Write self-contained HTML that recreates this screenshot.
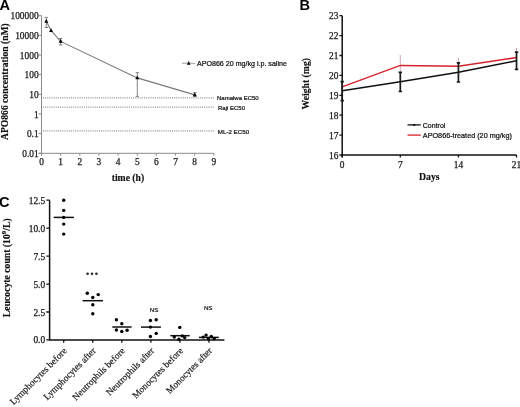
<!DOCTYPE html>
<html><head><meta charset="utf-8"><style>
html,body{margin:0;padding:0;background:#fff;}
body{width:520px;height:407px;overflow:hidden;}
svg{display:block;will-change:transform;}
</style></head><body>
<svg width="520" height="407" viewBox="0 0 520 407">
<rect width="520" height="407" fill="#fff"/>
<text x="-0.6" y="9.9" font-family='"Liberation Sans", sans-serif' font-weight="bold" font-size="14.6" fill="#000">A</text>
<path d="M41.5 15.680000000000007 V155.70000000000002 M38.5 153.3 H213.85" stroke="#8a8a8a" stroke-width="1" fill="none"/>
<path d="M38.5 153.30 H41.5 M38.5 133.64 H41.5 M38.5 113.98 H41.5 M38.5 94.32 H41.5 M38.5 74.66 H41.5 M38.5 55.00 H41.5 M38.5 35.34 H41.5 M38.5 15.68 H41.5 M41.50 153.3 V155.70000000000002 M60.65 153.3 V155.70000000000002 M79.80 153.3 V155.70000000000002 M98.95 153.3 V155.70000000000002 M118.10 153.3 V155.70000000000002 M137.25 153.3 V155.70000000000002 M156.40 153.3 V155.70000000000002 M175.55 153.3 V155.70000000000002 M194.70 153.3 V155.70000000000002 M213.85 153.3 V155.70000000000002 " stroke="#8a8a8a" stroke-width="1" fill="none"/>
<text x="38.6" y="19.28" text-anchor="end" font-family='"Liberation Serif", serif' font-size="9.4" fill="#1a1a1a" stroke="#1a1a1a" stroke-width="0.25">100000</text>
<text x="38.6" y="38.94" text-anchor="end" font-family='"Liberation Serif", serif' font-size="9.4" fill="#1a1a1a" stroke="#1a1a1a" stroke-width="0.25">10000</text>
<text x="38.6" y="58.60" text-anchor="end" font-family='"Liberation Serif", serif' font-size="9.4" fill="#1a1a1a" stroke="#1a1a1a" stroke-width="0.25">1000</text>
<text x="38.6" y="78.26" text-anchor="end" font-family='"Liberation Serif", serif' font-size="9.4" fill="#1a1a1a" stroke="#1a1a1a" stroke-width="0.25">100</text>
<text x="38.6" y="97.92" text-anchor="end" font-family='"Liberation Serif", serif' font-size="9.4" fill="#1a1a1a" stroke="#1a1a1a" stroke-width="0.25">10</text>
<text x="38.6" y="117.58" text-anchor="end" font-family='"Liberation Serif", serif' font-size="9.4" fill="#1a1a1a" stroke="#1a1a1a" stroke-width="0.25">1</text>
<text x="38.6" y="137.24" text-anchor="end" font-family='"Liberation Serif", serif' font-size="9.4" fill="#1a1a1a" stroke="#1a1a1a" stroke-width="0.25">0.1</text>
<text x="38.6" y="156.90" text-anchor="end" font-family='"Liberation Serif", serif' font-size="9.4" fill="#1a1a1a" stroke="#1a1a1a" stroke-width="0.25">0.01</text>
<text x="41.50" y="164.9" text-anchor="middle" font-family='"Liberation Serif", serif' font-size="9.4" fill="#1a1a1a" stroke="#1a1a1a" stroke-width="0.25">0</text>
<text x="60.65" y="164.9" text-anchor="middle" font-family='"Liberation Serif", serif' font-size="9.4" fill="#1a1a1a" stroke="#1a1a1a" stroke-width="0.25">1</text>
<text x="79.80" y="164.9" text-anchor="middle" font-family='"Liberation Serif", serif' font-size="9.4" fill="#1a1a1a" stroke="#1a1a1a" stroke-width="0.25">2</text>
<text x="98.95" y="164.9" text-anchor="middle" font-family='"Liberation Serif", serif' font-size="9.4" fill="#1a1a1a" stroke="#1a1a1a" stroke-width="0.25">3</text>
<text x="118.10" y="164.9" text-anchor="middle" font-family='"Liberation Serif", serif' font-size="9.4" fill="#1a1a1a" stroke="#1a1a1a" stroke-width="0.25">4</text>
<text x="137.25" y="164.9" text-anchor="middle" font-family='"Liberation Serif", serif' font-size="9.4" fill="#1a1a1a" stroke="#1a1a1a" stroke-width="0.25">5</text>
<text x="156.40" y="164.9" text-anchor="middle" font-family='"Liberation Serif", serif' font-size="9.4" fill="#1a1a1a" stroke="#1a1a1a" stroke-width="0.25">6</text>
<text x="175.55" y="164.9" text-anchor="middle" font-family='"Liberation Serif", serif' font-size="9.4" fill="#1a1a1a" stroke="#1a1a1a" stroke-width="0.25">7</text>
<text x="194.70" y="164.9" text-anchor="middle" font-family='"Liberation Serif", serif' font-size="9.4" fill="#1a1a1a" stroke="#1a1a1a" stroke-width="0.25">8</text>
<text x="213.85" y="164.9" text-anchor="middle" font-family='"Liberation Serif", serif' font-size="9.4" fill="#1a1a1a" stroke="#1a1a1a" stroke-width="0.25">9</text>
<path d="M43.0 97.9 H213.85" stroke="#8c8c8c" stroke-width="1.3" stroke-dasharray="1 1.15" fill="none"/>
<path d="M43.0 107.2 H213.85" stroke="#8c8c8c" stroke-width="1.3" stroke-dasharray="1 1.15" fill="none"/>
<path d="M43.0 130.9 H213.85" stroke="#8c8c8c" stroke-width="1.3" stroke-dasharray="1 1.15" fill="none"/>
<text x="217" y="99.6" font-family='"Liberation Sans", sans-serif' font-size="6" fill="#111" stroke="#111" stroke-width="0.22">Namalwa EC50</text>
<text x="218" y="110.2" font-family='"Liberation Sans", sans-serif' font-size="6" fill="#111" stroke="#111" stroke-width="0.22">Raji EC50</text>
<text x="217.8" y="133.6" font-family='"Liberation Sans", sans-serif' font-size="6.2" fill="#111" stroke="#111" stroke-width="0.22">ML-2 EC50</text>
<path d="M46.3 21.3 L51.1 30.6 L60.65 41.4 L137.3 77.9 L194.8 94.9" stroke="#7a7a7a" stroke-width="1.15" fill="none"/>
<path d="M46.3 17.4 V27.5 M44.599999999999994 17.4 H48.0 M44.599999999999994 27.5 H48.0 M60.65 38.5 V44.9 M58.949999999999996 38.5 H62.35 M58.949999999999996 44.9 H62.35 M137.3 72.6 V96.4 M135.60000000000002 72.6 H139.0 M135.60000000000002 96.4 H139.0 M194.8 92.6 V96.5 M193.10000000000002 92.6 H196.5 M193.10000000000002 96.5 H196.5 " stroke="#777" stroke-width="0.9" fill="none"/>
<path d="M46.3 18.94 L48.30 22.74 L44.30 22.74Z" fill="#000"/>
<path d="M51.1 28.24 L53.10 32.04 L49.10 32.04Z" fill="#000"/>
<path d="M60.65 39.04 L62.65 42.84 L58.65 42.84Z" fill="#000"/>
<path d="M137.3 75.54 L139.30 79.34 L135.30 79.34Z" fill="#000"/>
<path d="M194.8 92.54 L196.80 96.34 L192.80 96.34Z" fill="#000"/>
<path d="M182 63.3 H195.4" stroke="#a5a5a5" stroke-width="1"/>
<path d="M188.7 61.06 L190.60 64.67 L186.80 64.67Z" fill="#000"/>
<text x="197" y="65.6" font-family='"Liberation Sans", sans-serif' font-size="7.1" fill="#111" stroke="#111" stroke-width="0.22">APO866 20 mg/kg i.p. saline</text>
<text transform="translate(7.8 81.6) rotate(-90)" text-anchor="middle" font-family='"Liberation Serif", serif' font-weight="bold" font-size="9.6" fill="#111" stroke="#111" stroke-width="0.15">APO866 concentration (nM)</text>
<text x="127.95" y="180.6" text-anchor="middle" font-family='"Liberation Serif", serif' font-weight="bold" font-size="9.7" fill="#111" stroke="#111" stroke-width="0.15">time (h)</text>
<text x="299.4" y="10.2" font-family='"Liberation Sans", sans-serif' font-weight="bold" font-size="14.6" fill="#000">B</text>
<path d="M342.2 15.700000000000017 V157.6 M342.2 155.0 H516.5419999999999" stroke="#111" stroke-width="1.5" fill="none"/>
<path d="M339.4 155.00 H342.2 M339.4 135.10 H342.2 M339.4 115.20 H342.2 M339.4 95.30 H342.2 M339.4 75.40 H342.2 M339.4 55.50 H342.2 M339.4 35.60 H342.2 M339.4 15.70 H342.2 M342.20 155.0 V157.6 M400.31 155.0 V157.6 M458.43 155.0 V157.6 M516.54 155.0 V157.6 " stroke="#111" stroke-width="1.3" fill="none"/>
<text x="338.4" y="158.50" text-anchor="end" font-family='"Liberation Serif", serif' font-size="9.4" fill="#1a1a1a" stroke="#1a1a1a" stroke-width="0.25">16</text>
<text x="338.4" y="138.60" text-anchor="end" font-family='"Liberation Serif", serif' font-size="9.4" fill="#1a1a1a" stroke="#1a1a1a" stroke-width="0.25">17</text>
<text x="338.4" y="118.70" text-anchor="end" font-family='"Liberation Serif", serif' font-size="9.4" fill="#1a1a1a" stroke="#1a1a1a" stroke-width="0.25">18</text>
<text x="338.4" y="98.80" text-anchor="end" font-family='"Liberation Serif", serif' font-size="9.4" fill="#1a1a1a" stroke="#1a1a1a" stroke-width="0.25">19</text>
<text x="338.4" y="78.90" text-anchor="end" font-family='"Liberation Serif", serif' font-size="9.4" fill="#1a1a1a" stroke="#1a1a1a" stroke-width="0.25">20</text>
<text x="338.4" y="59.00" text-anchor="end" font-family='"Liberation Serif", serif' font-size="9.4" fill="#1a1a1a" stroke="#1a1a1a" stroke-width="0.25">21</text>
<text x="338.4" y="39.10" text-anchor="end" font-family='"Liberation Serif", serif' font-size="9.4" fill="#1a1a1a" stroke="#1a1a1a" stroke-width="0.25">22</text>
<text x="338.4" y="19.20" text-anchor="end" font-family='"Liberation Serif", serif' font-size="9.4" fill="#1a1a1a" stroke="#1a1a1a" stroke-width="0.25">23</text>
<text x="342.20" y="167.7" text-anchor="middle" font-family='"Liberation Serif", serif' font-size="9.4" fill="#1a1a1a" stroke="#1a1a1a" stroke-width="0.25">0</text>
<text x="400.31" y="167.7" text-anchor="middle" font-family='"Liberation Serif", serif' font-size="9.4" fill="#1a1a1a" stroke="#1a1a1a" stroke-width="0.25">7</text>
<text x="458.43" y="167.7" text-anchor="middle" font-family='"Liberation Serif", serif' font-size="9.4" fill="#1a1a1a" stroke="#1a1a1a" stroke-width="0.25">14</text>
<text x="516.54" y="167.7" text-anchor="middle" font-family='"Liberation Serif", serif' font-size="9.4" fill="#1a1a1a" stroke="#1a1a1a" stroke-width="0.25">21</text>
<path d="M400.31 55.8 V75.00000000000001 M399.51 55.8 H401.11 M458.43 58.4 V74.19999999999999 M457.63 58.4 H459.23 M516.54 48.4 V66.80000000000001 M515.74 48.4 H517.34 " stroke="#c9a2aa" stroke-width="0.9" fill="none"/>
<path d="M342.20 86.9 L400.31 65.4 L458.43 66.3 L516.54 57.6" stroke="#d6222c" stroke-width="1.5" fill="none"/>
<path d="M342.20 90.8 L400.31 81.8 L458.43 72.2 L516.54 60.7" stroke="#111" stroke-width="1.5" fill="none"/>
<path d="M342.20 81.6 V100.7 M340.50 81.6 H343.90 M340.50 100.7 H343.90 M400.31 72.3 V91.5 M398.61 72.3 H402.01 M398.61 91.5 H402.01 M458.43 62.9 V82 M456.73 62.9 H460.13 M456.73 82 H460.13 M516.54 52.1 V69.3 M514.84 52.1 H518.24 M514.84 69.3 H518.24 " stroke="#1a1a1a" stroke-width="1.7" fill="none"/>
<path d="M407.5 124.9 H420.8" stroke="#111" stroke-width="1.3"/>
<circle cx="414.2" cy="124.9" r="1" fill="#000"/>
<path d="M407.5 135.1 H420.8" stroke="#d6222c" stroke-width="1.3"/>
<text x="422.8" y="127.6" font-family='"Liberation Sans", sans-serif' font-size="7" fill="#111" stroke="#111" stroke-width="0.22">Control</text>
<text x="422.8" y="137.8" font-family='"Liberation Sans", sans-serif' font-size="7.25" fill="#111" stroke="#111" stroke-width="0.22">APO866-treated (20 mg/kg)</text>
<text transform="translate(309.3 83.75) rotate(-90)" text-anchor="middle" font-family='"Liberation Serif", serif' font-weight="bold" font-size="9.7" fill="#111" stroke="#111" stroke-width="0.15">Weight (mg)</text>
<text x="429.3" y="179.8" text-anchor="middle" font-family='"Liberation Serif", serif' font-weight="bold" font-size="9.7" fill="#111" stroke="#111" stroke-width="0.15">Days</text>
<text x="-0.9" y="207.4" font-family='"Liberation Sans", sans-serif' font-weight="bold" font-size="14.6" fill="#000">C</text>
<path d="M49.6 200.2 V339.95 M48.9 339.95 H224.4" stroke="#111" stroke-width="1.5" fill="none"/>
<path d="M46.300000000000004 339.95 H49.6 M46.300000000000004 312.00 H49.6 M46.300000000000004 284.05 H49.6 M46.300000000000004 256.10 H49.6 M46.300000000000004 228.15 H49.6 M46.300000000000004 200.20 H49.6 M63.70 339.95 V342.75 M92.76 339.95 V342.75 M121.82 339.95 V342.75 M150.88 339.95 V342.75 M179.94 339.95 V342.75 M209.00 339.95 V342.75 " stroke="#111" stroke-width="1.3" fill="none"/>
<text x="45.1" y="343.45" text-anchor="end" font-family='"Liberation Serif", serif' font-size="9.4" fill="#1a1a1a" stroke="#1a1a1a" stroke-width="0.25">0.0</text>
<text x="45.1" y="315.50" text-anchor="end" font-family='"Liberation Serif", serif' font-size="9.4" fill="#1a1a1a" stroke="#1a1a1a" stroke-width="0.25">2.5</text>
<text x="45.1" y="287.55" text-anchor="end" font-family='"Liberation Serif", serif' font-size="9.4" fill="#1a1a1a" stroke="#1a1a1a" stroke-width="0.25">5.0</text>
<text x="45.1" y="259.60" text-anchor="end" font-family='"Liberation Serif", serif' font-size="9.4" fill="#1a1a1a" stroke="#1a1a1a" stroke-width="0.25">7.5</text>
<text x="45.1" y="231.65" text-anchor="end" font-family='"Liberation Serif", serif' font-size="9.4" fill="#1a1a1a" stroke="#1a1a1a" stroke-width="0.25">10.0</text>
<text x="45.1" y="203.70" text-anchor="end" font-family='"Liberation Serif", serif' font-size="9.4" fill="#1a1a1a" stroke="#1a1a1a" stroke-width="0.25">12.5</text>
<text transform="translate(67.40 351.4) rotate(-45)" text-anchor="end" font-family='"Liberation Serif", serif' font-size="9.3" fill="#1a1a1a" stroke="#1a1a1a" stroke-width="0.2">Lymphocytes before</text>
<text transform="translate(96.46 351.4) rotate(-45)" text-anchor="end" font-family='"Liberation Serif", serif' font-size="9.3" fill="#1a1a1a" stroke="#1a1a1a" stroke-width="0.2">Lymphocytes after</text>
<text transform="translate(125.52 351.4) rotate(-45)" text-anchor="end" font-family='"Liberation Serif", serif' font-size="9.3" fill="#1a1a1a" stroke="#1a1a1a" stroke-width="0.2">Neutrophils before</text>
<text transform="translate(154.58 351.4) rotate(-45)" text-anchor="end" font-family='"Liberation Serif", serif' font-size="9.3" fill="#1a1a1a" stroke="#1a1a1a" stroke-width="0.2">Neutrophils after</text>
<text transform="translate(183.64 351.4) rotate(-45)" text-anchor="end" font-family='"Liberation Serif", serif' font-size="9.3" fill="#1a1a1a" stroke="#1a1a1a" stroke-width="0.2">Monocytes before</text>
<text transform="translate(212.70 351.4) rotate(-45)" text-anchor="end" font-family='"Liberation Serif", serif' font-size="9.3" fill="#1a1a1a" stroke="#1a1a1a" stroke-width="0.2">Monocytes after</text>
<path d="M53.7 217.4 H73.9" stroke="#111" stroke-width="1.5"/>
<path d="M82.6 300.7 H103" stroke="#111" stroke-width="1.5"/>
<path d="M112.3 327 H131.6" stroke="#111" stroke-width="1.5"/>
<path d="M141 327.1 H160.9" stroke="#111" stroke-width="1.5"/>
<path d="M170.3 335.7 H189.7" stroke="#111" stroke-width="1.5"/>
<path d="M198.9 337.4 H218.8" stroke="#111" stroke-width="1.5"/>
<circle cx="63.7" cy="200.2" r="1.7" fill="#000"/>
<circle cx="63.7" cy="210.4" r="1.7" fill="#000"/>
<circle cx="63.7" cy="217.4" r="1.7" fill="#000"/>
<circle cx="63.7" cy="224.1" r="1.7" fill="#000"/>
<circle cx="63.7" cy="234.1" r="1.7" fill="#000"/>
<circle cx="87.3" cy="293.3" r="1.7" fill="#000"/>
<circle cx="98.2" cy="294.6" r="1.7" fill="#000"/>
<circle cx="92.8" cy="297.5" r="1.7" fill="#000"/>
<circle cx="92.8" cy="304.8" r="1.7" fill="#000"/>
<circle cx="92.8" cy="313.8" r="1.7" fill="#000"/>
<circle cx="116.4" cy="319.7" r="1.7" fill="#000"/>
<circle cx="121.8" cy="323.8" r="1.7" fill="#000"/>
<circle cx="116.4" cy="330" r="1.7" fill="#000"/>
<circle cx="121.8" cy="331.5" r="1.7" fill="#000"/>
<circle cx="127.1" cy="330.2" r="1.7" fill="#000"/>
<circle cx="150.4" cy="320.5" r="1.7" fill="#000"/>
<circle cx="156.2" cy="319.7" r="1.7" fill="#000"/>
<circle cx="150.4" cy="327.1" r="1.7" fill="#000"/>
<circle cx="156.2" cy="333.4" r="1.7" fill="#000"/>
<circle cx="150.4" cy="336.5" r="1.7" fill="#000"/>
<circle cx="179.8" cy="327.4" r="1.7" fill="#000"/>
<circle cx="174.3" cy="337" r="1.7" fill="#000"/>
<circle cx="182.3" cy="335.9" r="1.7" fill="#000"/>
<circle cx="184.7" cy="337.6" r="1.7" fill="#000"/>
<circle cx="178.9" cy="339.3" r="1.7" fill="#000"/>
<circle cx="206.1" cy="335.1" r="1.7" fill="#000"/>
<circle cx="203.2" cy="337.1" r="1.7" fill="#000"/>
<circle cx="211.3" cy="336.5" r="1.7" fill="#000"/>
<circle cx="208.4" cy="338.8" r="1.7" fill="#000"/>
<circle cx="214.2" cy="338.6" r="1.7" fill="#000"/>
<circle cx="87.6" cy="273.8" r="1.25" fill="#222"/>
<circle cx="92" cy="273.8" r="1.25" fill="#222"/>
<circle cx="96.4" cy="273.8" r="1.25" fill="#222"/>
<text x="154.1" y="311.7" text-anchor="middle" font-family='"Liberation Sans", sans-serif' font-size="6.2" fill="#111" stroke="#111" stroke-width="0.2">NS</text>
<text x="208.2" y="310.4" text-anchor="middle" font-family='"Liberation Sans", sans-serif' font-size="6.2" fill="#111" stroke="#111" stroke-width="0.2">NS</text>
<text transform="translate(10.2 267.75) rotate(-90)" text-anchor="middle" font-family='"Liberation Serif", serif' font-weight="bold" font-size="9.7" fill="#111" stroke="#111" stroke-width="0.15">Leucocyte count (10<tspan dy="-4.2" font-size="7">9</tspan><tspan dy="4.2">/L)</tspan></text>
</svg>
</body></html>
